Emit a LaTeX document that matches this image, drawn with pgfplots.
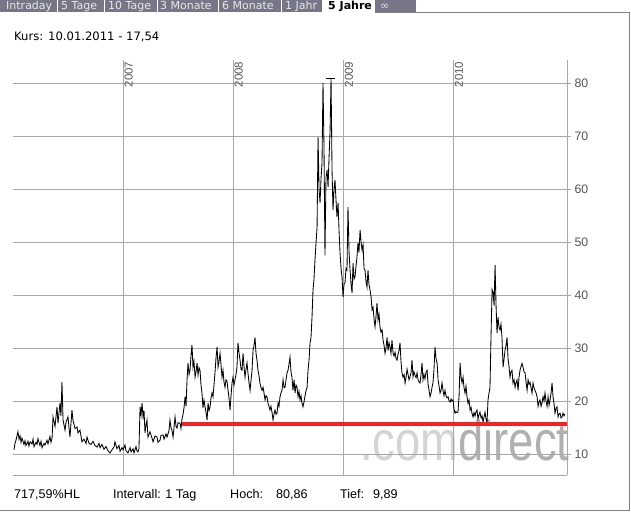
\documentclass[border=0pt]{standalone}
\usepackage{fontspec}
\usepackage{pgfplots}
\pgfplotsset{compat=1.18}
\setmainfont{Liberation Sans}
\newfontfamily\verd{DejaVu Sans}
\definecolor{tabgrey}{RGB}{118,118,134}
\definecolor{tabtext}{RGB}{232,232,232}
\definecolor{gridgrey}{RGB}{168,168,168}
\definecolor{labgrey}{RGB}{85,85,85}
\definecolor{framegrey}{RGB}{128,128,128}
\definecolor{supred}{RGB}{240,36,36}
\definecolor{wmlight}{RGB}{212,212,212}
\definecolor{wmdark}{RGB}{176,176,176}
\pgfplotstableread{
x y
2006.009 10.8
2006.018 12.0
2006.027 12.6
2006.045 14.2
2006.055 12.8
2006.064 13.4
2006.073 12.2
2006.082 13.0
2006.100 11.8
2006.109 12.5
2006.118 11.6
2006.136 12.4
2006.145 11.5
2006.155 12.3
2006.173 11.9
2006.182 12.8
2006.191 11.4
2006.209 12.2
2006.218 11.8
2006.227 12.9
2006.245 11.6
2006.255 12.4
2006.264 11.2
2006.282 12.0
2006.291 11.7
2006.309 12.6
2006.318 11.9
2006.336 13.3
2006.345 12.2
2006.355 13.0
2006.364 17.0
2006.382 15.2
2006.400 18.9
2006.409 15.8
2006.427 19.6
2006.436 17.2
2006.445 23.6
2006.455 16.4
2006.473 14.5
2006.482 16.0
2006.500 17.0
2006.509 15.0
2006.518 13.2
2006.536 18.3
2006.545 16.4
2006.564 14.8
2006.582 15.1
2006.591 14.0
2006.609 14.5
2006.618 13.4
2006.627 12.3
2006.645 12.8
2006.664 12.0
2006.673 13.2
2006.691 12.0
2006.709 11.8
2006.727 12.4
2006.745 11.6
2006.764 11.3
2006.782 12.0
2006.791 11.2
2006.809 11.8
2006.827 10.9
2006.845 11.4
2006.864 10.6
2006.882 10.2
2006.900 10.8
2006.918 11.3
2006.927 12.3
2006.945 11.0
2006.964 11.6
2006.973 10.5
2006.991 11.2
2007.000 10.8
2007.018 11.7
2007.027 10.6
2007.045 10.2
2007.064 11.2
2007.073 10.4
2007.091 11.0
2007.100 10.2
2007.118 11.4
2007.127 10.6
2007.136 10.4
2007.145 11.0
2007.155 18.9
2007.164 17.4
2007.173 19.6
2007.182 17.0
2007.191 18.2
2007.200 14.0
2007.209 15.4
2007.218 16.4
2007.227 13.2
2007.245 14.2
2007.264 13.0
2007.273 12.3
2007.291 13.4
2007.309 13.2
2007.318 12.2
2007.336 12.6
2007.345 13.5
2007.364 13.6
2007.373 12.8
2007.391 13.8
2007.400 13.2
2007.418 14.4
2007.427 16.4
2007.436 15.0
2007.445 14.5
2007.455 13.2
2007.473 17.0
2007.482 15.2
2007.491 14.9
2007.500 15.9
2007.518 15.8
2007.527 14.8
2007.536 16.6
2007.545 17.4
2007.555 18.8
2007.564 20.8
2007.573 19.0
2007.582 24.0
2007.591 27.2
2007.600 25.0
2007.609 25.8
2007.618 28.5
2007.627 30.6
2007.636 26.4
2007.645 27.5
2007.655 24.5
2007.664 25.5
2007.673 27.2
2007.682 24.9
2007.691 26.3
2007.700 25.8
2007.709 23.0
2007.718 21.5
2007.727 18.7
2007.736 20.2
2007.745 19.0
2007.755 17.8
2007.764 16.4
2007.773 19.6
2007.782 18.2
2007.791 18.8
2007.800 20.6
2007.809 21.5
2007.818 20.8
2007.827 23.0
2007.836 25.3
2007.845 28.0
2007.855 30.2
2007.864 26.4
2007.873 27.5
2007.882 29.0
2007.891 26.8
2007.900 24.5
2007.909 25.8
2007.918 23.6
2007.927 22.6
2007.936 24.0
2007.945 23.8
2007.955 22.0
2007.964 20.5
2007.973 18.3
2007.982 21.0
2007.991 23.4
2008.000 24.5
2008.009 23.0
2008.018 24.0
2008.027 25.0
2008.036 26.4
2008.045 31.0
2008.055 29.0
2008.064 27.7
2008.073 26.0
2008.082 25.8
2008.091 29.0
2008.100 26.5
2008.109 24.5
2008.118 26.0
2008.127 27.2
2008.136 25.3
2008.145 23.5
2008.155 22.0
2008.164 24.0
2008.173 25.8
2008.182 29.6
2008.191 30.5
2008.200 32.0
2008.209 29.0
2008.218 27.7
2008.227 25.8
2008.236 24.8
2008.245 23.4
2008.255 22.5
2008.264 22.0
2008.273 22.6
2008.282 21.5
2008.291 20.2
2008.300 21.0
2008.309 20.8
2008.318 19.6
2008.327 19.0
2008.336 18.3
2008.345 19.0
2008.355 17.8
2008.364 16.4
2008.373 17.6
2008.382 18.3
2008.391 17.5
2008.400 17.7
2008.409 19.6
2008.418 19.0
2008.427 20.8
2008.436 21.5
2008.445 22.0
2008.455 24.0
2008.464 22.5
2008.473 22.6
2008.482 24.0
2008.491 25.3
2008.500 25.8
2008.509 27.0
2008.518 28.3
2008.527 25.5
2008.536 24.5
2008.545 22.0
2008.555 24.0
2008.564 21.5
2008.573 23.0
2008.582 22.6
2008.591 20.8
2008.600 21.8
2008.609 20.2
2008.618 21.0
2008.627 19.6
2008.636 18.9
2008.645 19.8
2008.655 21.0
2008.664 22.0
2008.673 22.5
2008.682 25.8
2008.691 27.7
2008.700 30.9
2008.709 32.0
2008.718 35.8
2008.727 40.9
2008.736 43.0
2008.745 46.6
2008.755 50.0
2008.764 52.8
2008.773 69.8
2008.782 60.0
2008.791 57.4
2008.800 62.0
2008.809 64.9
2008.818 80.0
2008.827 68.0
2008.836 47.5
2008.845 62.0
2008.855 63.6
2008.864 60.4
2008.873 66.0
2008.882 70.8
2008.891 80.86
2008.900 63.6
2008.909 56.0
2008.918 60.0
2008.927 61.7
2008.936 58.0
2008.945 54.7
2008.955 57.4
2008.964 52.0
2008.973 47.9
2008.982 45.0
2008.991 43.4
2009.000 39.6
2009.009 42.0
2009.018 42.3
2009.027 45.0
2009.036 44.7
2009.045 56.6
2009.055 48.0
2009.064 44.7
2009.073 42.0
2009.082 40.4
2009.091 46.0
2009.100 43.0
2009.109 43.4
2009.118 45.5
2009.127 47.2
2009.136 49.8
2009.145 48.0
2009.155 52.3
2009.164 50.0
2009.173 48.5
2009.182 49.5
2009.191 45.0
2009.200 44.7
2009.209 42.5
2009.218 41.5
2009.227 44.7
2009.236 42.0
2009.245 41.0
2009.255 39.6
2009.264 37.2
2009.273 37.7
2009.282 35.5
2009.291 34.0
2009.300 36.0
2009.309 38.5
2009.318 35.3
2009.327 36.4
2009.336 34.0
2009.345 33.0
2009.355 33.4
2009.364 31.5
2009.373 30.5
2009.382 29.0
2009.391 30.0
2009.400 32.0
2009.409 29.5
2009.418 31.0
2009.427 30.2
2009.436 29.0
2009.445 31.5
2009.455 29.0
2009.464 28.5
2009.473 29.2
2009.482 28.0
2009.491 27.7
2009.500 28.8
2009.509 29.5
2009.518 31.0
2009.527 27.5
2009.536 25.3
2009.545 24.5
2009.555 25.0
2009.564 23.4
2009.573 24.5
2009.582 26.0
2009.591 25.0
2009.600 24.0
2009.609 24.6
2009.618 25.3
2009.627 27.7
2009.636 24.6
2009.645 25.5
2009.655 24.8
2009.664 24.4
2009.673 25.3
2009.682 24.0
2009.691 23.6
2009.700 23.4
2009.709 25.0
2009.718 27.2
2009.727 24.0
2009.736 25.0
2009.745 24.2
2009.755 25.5
2009.764 25.8
2009.773 23.2
2009.782 22.0
2009.791 20.8
2009.800 21.5
2009.809 22.6
2009.818 23.5
2009.827 26.0
2009.836 30.2
2009.845 28.0
2009.855 27.2
2009.864 24.0
2009.873 22.8
2009.882 21.5
2009.891 22.0
2009.900 23.4
2009.909 22.0
2009.918 21.0
2009.927 22.0
2009.936 21.0
2009.945 20.6
2009.955 20.8
2009.964 20.0
2009.973 19.8
2009.982 20.4
2009.991 20.0
2010.000 20.2
2010.009 18.5
2010.018 17.7
2010.027 18.0
2010.036 17.8
2010.045 17.9
2010.055 21.0
2010.064 27.2
2010.073 24.5
2010.082 23.4
2010.091 24.5
2010.100 22.5
2010.109 21.5
2010.118 22.8
2010.127 20.8
2010.136 19.6
2010.145 20.2
2010.155 18.3
2010.164 18.8
2010.173 17.6
2010.182 17.0
2010.191 17.8
2010.200 17.2
2010.209 18.0
2010.218 18.3
2010.227 16.6
2010.236 17.4
2010.245 17.9
2010.255 16.8
2010.264 17.2
2010.273 16.0
2010.282 17.0
2010.291 17.9
2010.300 16.5
2010.309 16.0
2010.318 20.2
2010.327 21.5
2010.336 22.6
2010.345 32.0
2010.355 41.0
2010.364 40.5
2010.373 38.0
2010.382 45.7
2010.391 38.0
2010.400 32.8
2010.409 35.8
2010.418 34.0
2010.427 33.4
2010.436 34.5
2010.445 32.0
2010.455 26.4
2010.464 28.0
2010.473 29.6
2010.482 30.5
2010.491 32.0
2010.500 28.0
2010.509 26.5
2010.518 24.5
2010.527 25.5
2010.536 25.8
2010.545 23.4
2010.555 24.0
2010.564 22.6
2010.573 23.5
2010.582 24.0
2010.591 22.0
2010.600 24.5
2010.609 25.8
2010.618 26.5
2010.627 27.1
2010.636 26.4
2010.645 25.5
2010.655 25.3
2010.664 23.5
2010.673 22.0
2010.682 24.0
2010.691 23.2
2010.700 23.5
2010.709 22.5
2010.718 21.5
2010.727 23.4
2010.736 22.5
2010.745 22.0
2010.755 21.5
2010.764 20.8
2010.773 19.0
2010.782 19.8
2010.791 20.2
2010.800 19.0
2010.809 19.6
2010.818 20.8
2010.827 20.0
2010.836 21.5
2010.845 20.0
2010.855 19.0
2010.864 20.8
2010.873 19.2
2010.882 20.2
2010.891 21.5
2010.900 23.4
2010.909 20.8
2010.918 19.5
2010.927 17.7
2010.936 18.6
2010.945 18.9
2010.955 17.0
2010.964 17.6
2010.973 17.7
2010.982 16.8
2010.991 17.0
2011.000 17.7
2011.009 17.2
2011.018 17.54
}\vixdata
\begin{document}
\begin{tikzpicture}
\path[use as bounding box, fill=white] (0pt,0pt) rectangle (631pt,513pt);
\begin{scope}[x=1pt,y=1pt]
% tab bar
\fill[tabgrey] (0,501) rectangle (322,513);
\fill[tabgrey] (375,501) rectangle (416,513);
\foreach \sx in {57,104,157,218,281,322} {\draw[white, line width=1pt] (\sx,501) -- (\sx,513);}
\begin{scope}
\clip (0,501) rectangle (416,513);
\begin{scope}[every node/.style={anchor=base west, inner sep=0, text=tabtext, font=\verd\fontsize{11}{11}\selectfont}]
\node at (6,503.5) {Intraday};
\node at (61,503.5) {5 Tage};
\node at (108,503.5) {10 Tage};
\node at (160,503.5) {3 Monate};
\node at (222,503.5) {6 Monate};
\node at (285,503.5) {1 Jahr};
\node at (380,503.5) {∞};
\end{scope}
\node[anchor=base west, inner sep=0, font=\verd\bfseries\fontsize{11}{11}\selectfont] at (328,503.5) {5 Jahre};
\end{scope}
% frame
\draw[framegrey, line width=0.8pt] (375,501) -- (629.5,501) -- (629.5,3) -- (0,3);
% title
\node[anchor=west, inner sep=0, font=\verd\fontsize{11.6}{13}\selectfont] at (14,476) {Kurs: 10.01.2011 - 17,54};
% watermark
\node[anchor=base west, inner sep=0, xscale=0.81, font=\fontsize{56}{56}\selectfont] at (360,52) {\textcolor{wmlight}{.com}\textcolor{wmdark}{direct}};
% footer
\begin{scope}[every node/.style={anchor=base west, inner sep=0, font=\fontsize{12.6}{14}\selectfont}]
\node at (14,14) {717,59\%HL};
\node at (113,14) {Intervall: 1 Tag};
\node at (230,14) {Hoch:};
\node at (276,14) {80,86};
\node at (340,14) {Tief:};
\node at (373,14) {9,89};
\end{scope}
\end{scope}
\begin{axis}[
  at={(13pt,38pt)}, anchor=south west, scale only axis,
  width=554pt, height=415pt,
  xmin=2006, xmax=2011.036, ymin=6.04, ymax=84.34,
  axis x line*=bottom, axis y line*=right,
  axis line style={gridgrey, line width=0.8pt, -},
  xtick={2007,2008,2009,2010}, xticklabels={}, xtick style={draw=none},
  ytick={10,20,30,40,50,60,70,80},
  ytick style={gridgrey, line width=0.8pt},
  major tick length=4pt, tick align=outside,
  grid=major, grid style={gridgrey, line width=0.8pt},
  /pgf/number format/assume math mode=true,
  yticklabel style={font=\fontsize{12.3}{12}\selectfont, text=labgrey},
  clip=false,
]
\addplot[black, line width=0.85pt] table[x=x, y=y] {\vixdata};
\addplot[supred, line width=4.5pt] coordinates {(2007.536,15.7) (2011.036,15.7)};
\addplot[black, line width=0.85pt] coordinates {(2008.845,80.86) (2008.927,80.86)};
\node[rotate=90, anchor=north east, inner sep=1.5pt, text=labgrey, font=\fontsize{11.5}{11.5}\selectfont] at (axis cs:2007,84.34) {2007};
\node[rotate=90, anchor=north east, inner sep=1.5pt, text=labgrey, font=\fontsize{11.5}{11.5}\selectfont] at (axis cs:2008,84.34) {2008};
\node[rotate=90, anchor=north east, inner sep=1.5pt, text=labgrey, font=\fontsize{11.5}{11.5}\selectfont] at (axis cs:2009,84.34) {2009};
\node[rotate=90, anchor=north east, inner sep=1.5pt, text=labgrey, font=\fontsize{11.5}{11.5}\selectfont] at (axis cs:2010,84.34) {2010};
\end{axis}
\end{tikzpicture}
\end{document}
